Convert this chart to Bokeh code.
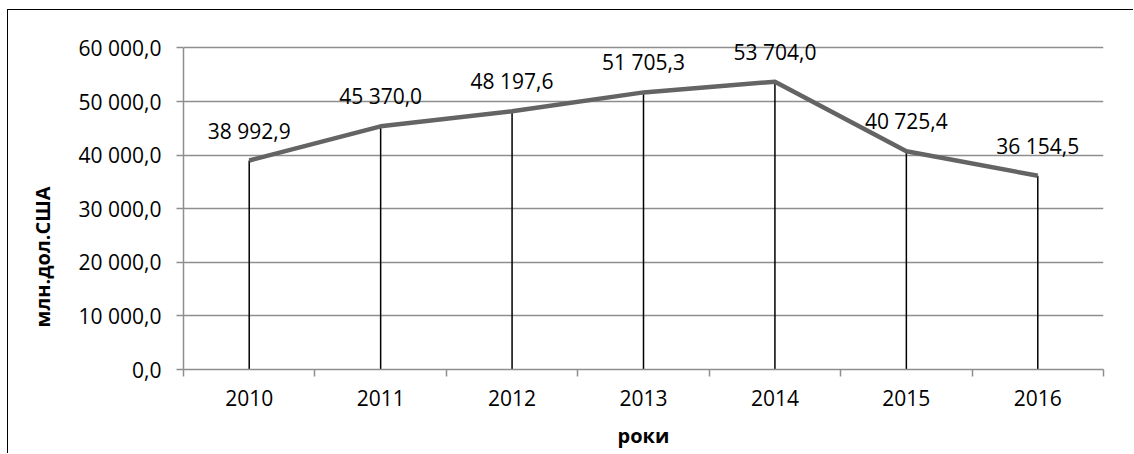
import math
from bokeh.plotting import figure
from bokeh.models import (ColumnDataSource, FixedTicker, LabelSet, Range1d, Title)
from bokeh.core.properties import value
from bokeh.embed import file_html
from bokeh.resources import INLINE

# ---- data ----
years = ["2010", "2011", "2012", "2013", "2014", "2015", "2016"]
values = [38992.9, 45370.0, 48197.6, 51705.3, 53704.0, 40725.4, 36154.5]
y_ticks = [0, 10000, 20000, 30000, 40000, 50000, 60000]
y_tick_labels = ["0,0", "10 000,0", "20 000,0", "30 000,0", "40 000,0", "50 000,0", "60 000,0"]
x_title = "роки"
y_title = "млн.дол.США"

def fmt(v):
    return f"{v:,.1f}".replace(",", " ").replace(".", ",")

xs = [i + 0.5 for i in range(len(years))]
src = ColumnDataSource(dict(
    x=xs, y=values, y0=[0] * len(values),
    lbl=[fmt(v) for v in values],
))

FONT = "Open Sans"
GRID = "#8e8e8e"
Y_TOP = 64000  # headroom so the top data label is not clipped

p = figure(width=1126, height=444, output_backend="svg", toolbar_location=None,
           x_range=Range1d(0, len(years)), y_range=Range1d(0, Y_TOP))
p.min_border_left = 173
p.min_border_right = 31
p.min_border_top = 16
p.min_border_bottom = 85
p.outline_line_color = None
p.background_fill_color = "white"
p.border_fill_color = "white"
p.styles = {"margin-left": "7px", "margin-top": "9px",
            "border-left": "1px solid #000", "border-top": "1px solid #000"}

# grids
p.xgrid.grid_line_color = None
p.ygrid.grid_line_color = GRID
p.ygrid.grid_line_width = 1.5

# y axis
yax = p.yaxis[0]
yax.ticker = FixedTicker(ticks=y_ticks, minor_ticks=[])
yax.bounds = (y_ticks[0], y_ticks[-1])
yax.major_label_overrides = {t: l for t, l in zip(y_ticks, y_tick_labels)}
yax.axis_line_color = GRID
yax.axis_line_width = 1.5
yax.major_tick_line_color = GRID
yax.major_tick_line_width = 1.5
yax.major_tick_out = 7
yax.major_tick_in = 0
yax.minor_tick_line_color = None
yax.major_label_standoff = 15
yax.major_label_text_font = FONT
yax.major_label_text_font_size = "21px"
yax.major_label_text_color = "black"

# x axis
xax = p.xaxis[0]
xax.ticker = FixedTicker(ticks=xs, minor_ticks=list(range(len(years) + 1)))
xax.major_label_overrides = {x: y for x, y in zip(xs, years)}
xax.axis_line_color = GRID
xax.axis_line_width = 1.5
xax.major_tick_line_color = None
xax.major_tick_out = 7
xax.major_tick_in = 0
xax.minor_tick_line_color = GRID
xax.minor_tick_line_width = 1.5
xax.minor_tick_out = 7
xax.minor_tick_in = 0
xax.major_label_standoff = 13
xax.major_label_text_font = FONT
xax.major_label_text_font_size = "21px"
xax.major_label_text_color = "black"
xax.axis_label = x_title
xax.axis_label_text_font = FONT
xax.axis_label_text_font_size = "20px"
xax.axis_label_text_font_style = "bold"
xax.axis_label_text_color = "black"
xax.axis_label_standoff = 13

# drop lines
p.segment(x0="x", y0="y0", x1="x", y1="y", source=src, line_color="black", line_width=1.5)
# main line
p.line(x="x", y="y", source=src, line_color="#646464", line_width=4.5, line_join="round")

# data labels
labels = LabelSet(x="x", y="y", text="lbl", source=src, y_offset=30,
                  text_align="center", text_baseline="middle",
                  text_font=value(FONT), text_font_size="21px", text_color="black")
p.add_layout(labels)

# y title (off-centre, as in the original)
p.add_layout(Title(text=y_title, align="left", offset=42, vertical_align="middle",
                   text_font=FONT, text_font_size="20px", text_font_style="bold",
                   text_color="black", standoff=38), "left")

open("out.html", "w").write(file_html(p, INLINE))
